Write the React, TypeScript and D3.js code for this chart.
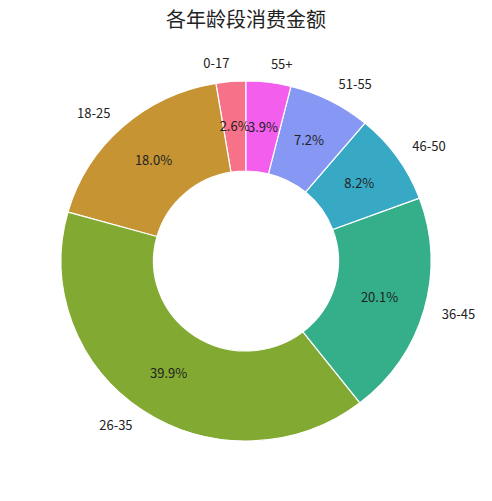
import React from "react";
import * as d3 from "d3";

const title = "各年龄段消费金额";
const ageGroups = ["0-17", "18-25", "26-35", "36-45", "46-50", "51-55", "55+"];
const shares = [2.6, 18.0, 39.9, 20.1, 8.2, 7.2, 3.9];
const colors = ["#f77189", "#c69432", "#82a931", "#34af8a", "#38a9c5", "#8797f4", "#f45eed"];

const width = 492;
const height = 501;
const cx = 246;
const cy = 261;
const radius = 185;
// the reference axes are not quite square, so the donut is slightly squashed
const yScale = 180 / 185;
const fontFamily = "'Noto Sans CJK SC', 'DejaVu Sans', sans-serif";

type Slice = { group: string; value: number; color: string };

export default function App() {
  const slices: Slice[] = ageGroups.map((g, i) => ({ group: g, value: shares[i], color: colors[i] }));

  // matplotlib style: start at the top, go counter-clockwise
  const pie = d3
    .pie<Slice>()
    .value((d) => d.value)
    .sort(null)
    .startAngle(0)
    .endAngle(-2 * Math.PI);

  const arcs = pie(slices);
  const arc = d3
    .arc<d3.PieArcDatum<Slice>>()
    .innerRadius(radius * 0.5)
    .outerRadius(radius);

  const total = d3.sum(shares);

  return (
    <svg width={width} height={height} style={{ position: "absolute", left: 0, top: 0 }}>
      <rect width={width} height={height} fill="#ffffff" />
      <text
        x={width / 2}
        y={27}
        textAnchor="middle"
        fontSize={20}
        fontFamily={fontFamily}
        fill="#222"
      >
        {title}
      </text>
      <g transform={`translate(${cx},${cy})`}>
        <g transform={`scale(1,${yScale})`}>
          {arcs.map((a) => (
            <path key={a.data.group} d={arc(a) ?? ""} fill={a.data.color} stroke="#ffffff" strokeWidth={1.2} />
          ))}
        </g>
        {arcs.map((a) => {
          const mid = (a.startAngle + a.endAngle) / 2;
          const lx = Math.sin(mid) * radius * 1.1;
          const ly = -Math.cos(mid) * radius * 1.1 * yScale;
          const px = Math.sin(mid) * radius * 0.75;
          const py = -Math.cos(mid) * radius * 0.75 * yScale;
          return (
            <g key={`t-${a.data.group}`} fontFamily={fontFamily} fontSize={13} fill="#222">
              <text x={lx} y={ly} dy="0.35em" textAnchor={lx > 0 ? "start" : "end"}>
                {a.data.group}
              </text>
              <text x={px} y={py} dy="0.35em" textAnchor="middle">
                {`${((a.data.value / total) * 100).toFixed(1)}%`}
              </text>
            </g>
          );
        })}
      </g>
    </svg>
  );
}
